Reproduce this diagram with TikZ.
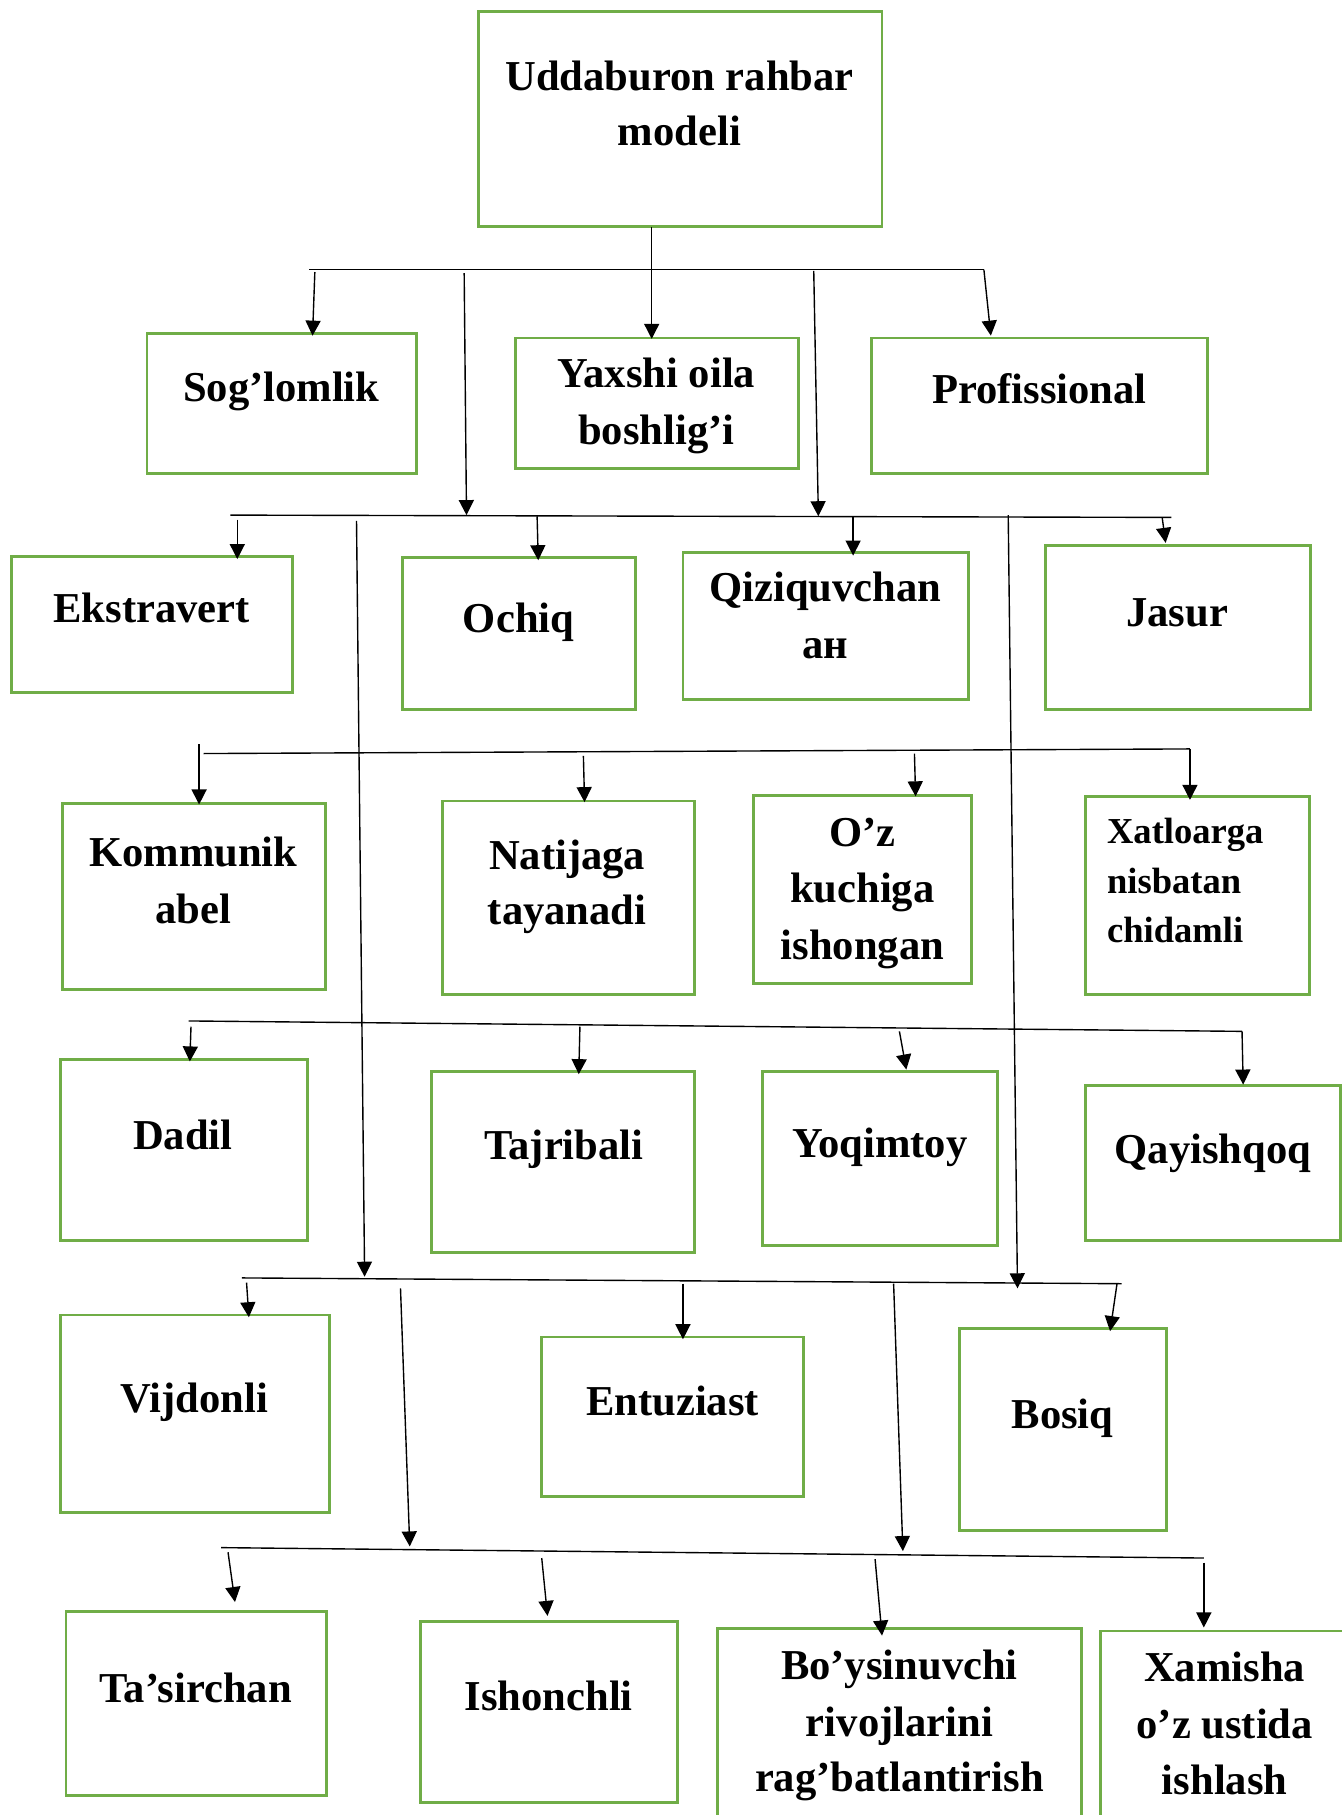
\documentclass[tikz,border=0pt]{standalone}
\usepackage{fontspec}
\setmainfont{Liberation Serif}
\usetikzlibrary{fit,arrows.meta}
\definecolor{boxgreen}{HTML}{70AD47}

% a box by its corners, and one line of its text by its centre
\newcommand\tbox[5]{\node[box, fit={(#2,#3) (#4,#5)}] (#1) {};}
\newcommand\tline[4]{\node[lbl] (#1) at (#2,#3+12) {#4};}
\newcommand\sline[4]{\node[slbl] (#1) at (#2,#3+11) {#4};}

\begin{document}
\begin{tikzpicture}[x=0.5pt,y=-0.5pt,
  box/.style={draw=boxgreen, line width=1.25pt, inner sep=0pt},
  lbl/.style={font=\bfseries\fontsize{18.4}{24}\selectfont, inner sep=0pt, anchor=base},
  slbl/.style={font=\bfseries\fontsize{15.8}{21}\selectfont, inner sep=0pt, anchor=base west},
  wire/.style={line width=0.6pt, black},
  arr/.style={wire, -{Triangle[length=6.5pt,width=6.5pt]}}
]
\useasboundingbox (0,0) rectangle (1159,1568);

% ---------- boxes ----------
\tbox{root}{413}{10}{762}{196}
\tbox{sog}{127}{288}{360}{409}
\tbox{yax}{445}{292}{690}{405}
\tbox{pro}{753}{292}{1043}{409}

\tbox{eks}{10}{481}{253}{598}
\tbox{och}{348}{482}{549}{613}
\tbox{qiz}{590}{477}{837}{604}
\tbox{jas}{903}{471}{1132}{613}

\tbox{kom}{54}{694}{281}{855}
\tbox{nat}{382}{692}{600}{859}
\tbox{ozk}{651}{687}{839}{850}
\tbox{xat}{938}{688}{1131}{859}

\tbox{dad}{52}{915}{266}{1072}
\tbox{taj}{373}{926}{600}{1082}
\tbox{yoq}{659}{926}{862}{1076}
\tbox{qay}{938}{938}{1158}{1072}

\tbox{vij}{52}{1136}{285}{1307}
\tbox{ent}{468}{1155}{694}{1293}
\tbox{bos}{829}{1148}{1008}{1322}

\tbox{tas}{57}{1392}{282}{1551}
\tbox{ish}{363}{1401}{585}{1557}
\tbox{boy}{620}{1407}{934}{1580}
\tbox{xam}{951}{1409}{1162}{1580}

% ---------- texts ----------
\tline{root1}{587}{66}{Uddaburon rahbar}
\tline{root2}{587}{114}{modeli}
\tline{sog1}{243}{335}{Sog’lomlik}
\tline{yax1}{567}{323}{Yaxshi oila}
\tline{yax2}{567}{372}{boshlig’i}
\tline{pro1}{898}{337}{Profissional}

\tline{eks1}{131}{526}{Ekstravert}
\tline{och1}{448}{534}{Ochiq}
\tline{qiz1}{713}{508}{Qiziquvchan}
\tline{qiz2}{713}{557}{ан}
\tline{jas1}{1017}{529}{Jasur}

\tline{kom1}{167}{737}{Kommunik}
\tline{kom2}{167}{786}{abel}
\tline{nat1}{490}{739}{Natijaga}
\tline{nat2}{490}{787}{tayanadi}
\tline{ozk1}{745}{719}{O’z}
\tline{ozk2}{745}{768}{kuchiga}
\tline{ozk3}{745}{817}{ishongan}
\sline{xat1}{956}{718}{Xatloarga}
\sline{xat2}{956}{761}{nisbatan}
\sline{xat3}{956}{803}{chidamli}

\tline{dad1}{158}{981}{Dadil}
\tline{taj1}{487}{990}{Tajribali}
\tline{yoq1}{760}{988}{Yoqimtoy}
\tline{qay1}{1048}{993}{Qayishqoq}

\tline{vij1}{168}{1208}{Vijdonli}
\tline{ent1}{581}{1211}{Entuziast}
\tline{bos1}{918}{1222}{Bosiq}

\tline{tas1}{169}{1459}{Ta’sirchan}
\tline{ish1}{474}{1466}{Ishonchli}
\tline{boy1}{777}{1439}{Bo’ysinuvchi}
\tline{boy2}{777}{1488}{rivojlarini}
\tline{boy3}{777}{1536}{rag’batlantirish}
\tline{xam1}{1058}{1441}{Xamisha}
\tline{xam2}{1058}{1490}{o’z ustida}
\tline{xam3}{1058}{1538}{ishlash}

% ---------- level 1 ----------
\coordinate (r0) at (563,196);
\coordinate (b1l) at (267,233);
\coordinate (b1r) at (850,233);
\draw[wire] (b1l) -- (b1r);
\draw[arr] (r0) -- ([yshift=-1pt]r0 |- yax.north);
\coordinate (s1a) at (272,235);
\draw[arr] (s1a) -- (270,290);
\draw[arr] (b1r) -- (856,290);
\coordinate (s1b) at (401,236);
\coordinate (s1c) at (703,234);

% ---------- level 2 ----------
\coordinate (b2l) at (199,445);
\coordinate (b2r) at (1012,447);
\draw[wire] (b2l) -- (b2r);
\draw[arr] (s1b) -- (403,445);
\draw[arr] (s1c) -- (707,446);
\coordinate (s2a) at (205,449);
\coordinate (s2b) at (464,446);
\coordinate (s2c) at (737,446);
\coordinate (s2d) at (1004,447);
\draw[arr] (s2a) -- (205,483);
\draw[arr] (s2b) -- (465,484);
\draw[arr] (s2c) -- (737,480);
\draw[arr] (s2d) -- (1007,469);
\coordinate (s2e) at (308,450);
\coordinate (s2f) at (871,445);

% ---------- level 3 ----------
\coordinate (b3l) at (176,651);
\coordinate (b3r) at (1028,647);
\draw[wire] (b3l) -- (b3r);
\coordinate (s3a) at (172,643);
\coordinate (s3b) at (504,653);
\coordinate (s3c) at (790,651);
\draw[arr] (s3a) -- (172,695);
\draw[arr] (s3b) -- (505,693);
\draw[arr] (s3c) -- (791,688);
\draw[arr] (b3r) -- (1028,691);

% ---------- level 4 ----------
\coordinate (b4l) at (163,882);
\coordinate (b4r) at (1073,891);
\draw[wire] (b4l) -- (b4r);
\coordinate (s4a) at (165,887);
\coordinate (s4b) at (501,887);
\coordinate (s4c) at (777,891);
\draw[arr] (s4a) -- (164,917);
\draw[arr] (s4b) -- (500,928);
\draw[arr] (s4c) -- (783,924);
\draw[arr] (b4r) -- (1074,937);

% ---------- level 5 ----------
\coordinate (b5l) at (209,1104);
\coordinate (b5r) at (969,1109);
\draw[wire] (b5l) -- (b5r);
\draw[arr] (s2e) -- (315,1103);
\draw[arr] (s2f) -- (879,1113);
\coordinate (s5a) at (213,1108);
\coordinate (s5b) at (590,1109);
\coordinate (s5c) at (965,1109);
\draw[arr] (s5a) -- (215,1138);
\draw[arr] (s5b) -- (590,1157);
\draw[arr] (s5c) -- (959,1150);
\coordinate (s5d) at (346,1113);
\coordinate (s5e) at (772,1109);

% ---------- level 6 ----------
\coordinate (b6l) at (191,1337);
\coordinate (b6r) at (1040,1346);
\draw[wire] (b6l) -- (b6r);
\draw[arr] (s5d) -- (354,1336);
\draw[arr] (s5e) -- (780,1340);
\coordinate (s6a) at (197,1341);
\coordinate (s6b) at (468,1346);
\coordinate (s6c) at (756,1347);
\coordinate (s6d) at (1040,1350);
\draw[arr] (s6a) -- (203,1384);
\draw[arr] (s6b) -- (473,1396);
\draw[arr] (s6c) -- (762,1413);
\draw[arr] (s6d) -- (1040,1406);
\end{tikzpicture}
\end{document}
